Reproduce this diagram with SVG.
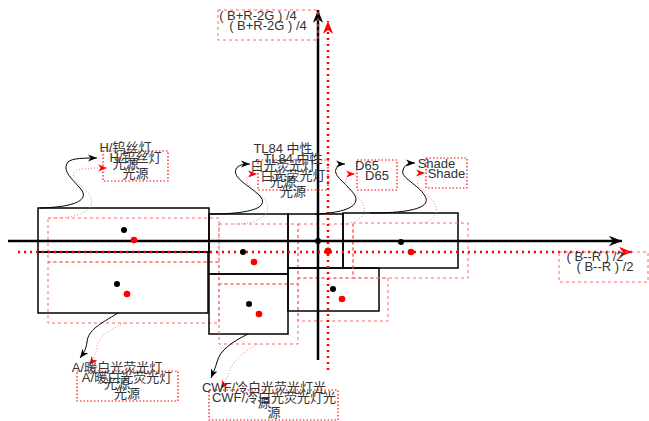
<svg xmlns="http://www.w3.org/2000/svg" width="649" height="421" viewBox="0 0 649 421">
<style>
.rk{fill:none;stroke:#000;stroke-width:1.5}
.rr{fill:none;stroke:#FF6666;stroke-width:1;stroke-dasharray:3 3}
.lb{fill:none;stroke:#FF0000;stroke-width:1.2;stroke-dasharray:1.5 2}
.db{fill:#000}
.dr{fill:#FF0000}
.t{font-family:"Liberation Sans","Noto Sans CJK SC",sans-serif;font-size:13px;fill:#333;text-anchor:middle}
.ck{fill:none;stroke:#000;stroke-width:1;marker-end:url(#ab)}
.cr{fill:none;stroke:#FF8080;stroke-width:1;stroke-dasharray:1 2;marker-end:url(#ar)}
.ak{fill:none;stroke:#000;stroke-width:2.5;marker-end:url(#aab)}
.ar{fill:none;stroke:#FF0000;stroke-width:2.5;stroke-dasharray:2 4;marker-end:url(#aar)}
</style>
<defs>
<marker id="ab" viewBox="0 0 10 8" refX="10" refY="4" markerWidth="9" markerHeight="7.2" markerUnits="userSpaceOnUse" orient="auto"><path d="M0,0 L10,4 L0,8 L3,4 Z" fill="#000"/></marker>
<marker id="ar" viewBox="0 0 10 8" refX="10" refY="4" markerWidth="9" markerHeight="7.2" markerUnits="userSpaceOnUse" orient="auto"><path d="M0,0 L10,4 L0,8 L3,4 Z" fill="#FF0000"/></marker>
<marker id="aab" viewBox="0 0 10 8" refX="10" refY="4" markerWidth="13" markerHeight="10.4" markerUnits="userSpaceOnUse" orient="auto"><path d="M0,0 L10,4 L0,8 L3,4 Z" fill="#000"/></marker>
<marker id="aar" viewBox="0 0 10 8" refX="10" refY="4" markerWidth="13" markerHeight="10.4" markerUnits="userSpaceOnUse" orient="auto"><path d="M0,0 L10,4 L0,8 L3,4 Z" fill="#FF0000"/></marker>
</defs>

<g id="node-H">
<rect class="rk" x="38" y="208" width="171" height="44"/>
<rect class="rr" x="48" y="218" width="171" height="44"/>
</g>
<g id="node-A">
<rect class="rk" x="38" y="252" width="170" height="61"/>
<rect class="rr" x="48" y="262" width="171" height="61"/>
</g>
<g id="node-TL84">
<rect class="rk" x="209" y="214" width="79" height="60"/>
<rect class="rr" x="219" y="224" width="79" height="60"/>
</g>
<g id="node-CWF">
<rect class="rk" x="209" y="274" width="79" height="60"/>
<rect class="rr" x="219" y="284" width="79" height="60"/>
</g>
<g id="node-D65">
<rect class="rk" x="288" y="214" width="55" height="54"/>
<rect class="rr" x="298" y="224" width="55" height="54"/>
</g>
<g id="node-U">
<rect class="rk" x="288" y="268" width="91" height="43"/>
<rect class="rr" x="298" y="278" width="90" height="43"/>
</g>
<g id="node-Shade">
<rect class="rk" x="343" y="213" width="115" height="55"/>
<rect class="rr" x="353" y="223" width="115" height="55"/>
</g>

<g id="connectors">
<path class="ak" d="M8,241 L622,241"/>
<path class="ak" d="M318,360 L318,10"/>
<path class="ar" d="M18,252 L632,252"/>
<path class="ar" d="M328,370 L328,21"/>
<path class="ck" d="M40,208 C78,207 90,199 80,188 C70,177 62,170 68,162 C72,158 85,158 97,158"/>
<path class="cr" d="M50,218 C85,218 96,208 90,196 C84,186 70,180 74,173 C77,168 92,168 107,168"/>
<path class="ck" d="M209,214 C250,214 270,208 260,196 C250,186 232,178 236,169 C238,165 243,164 250,164"/>
<path class="cr" d="M235,224 C262,224 272,212 266,202 C258,190 244,186 247,178 C249,174 252,174 257,174"/>
<path class="ck" d="M315,214 C345,213 362,206 354,194 C346,183 333,176 336,169 C338,165 341,164 345,164"/>
<path class="cr" d="M345,224 C362,222 368,212 362,202 C355,192 343,188 346,180 C348,175 351,174 355,174"/>
<path class="ck" d="M370,213 C410,213 432,208 425,196 C418,184 400,178 403,170 C405,164 409,163 415,163"/>
<path class="cr" d="M422,223 C437,220 440,210 432,200 C424,190 415,186 418,180 C420,175 421,173 425,173"/>
<path class="ck" d="M118,313 C100,324 88,330 87,342 C86,350 83,354 80,358"/>
<path class="cr" d="M124,323 C110,330 99,336 97,346 C96,354 93,360 89,365"/>
<path class="ck" d="M248,334 C232,342 220,350 217,362 C215,369 213,373 211,378"/>
<path class="cr" d="M258,344 C243,352 234,360 230,370 C227,378 224,384 221,389"/>
</g>

<g id="dots">
<circle class="db" cx="124" cy="230" r="3"/><circle class="dr" cx="134" cy="240" r="3.3"/>
<circle class="db" cx="117" cy="284" r="3"/><circle class="dr" cx="127" cy="294" r="3.3"/>
<circle class="db" cx="243" cy="252" r="3"/><circle class="dr" cx="254" cy="262" r="3.3"/>
<circle class="db" cx="249" cy="304" r="3"/><circle class="dr" cx="259" cy="314" r="3.3"/>
<circle class="db" cx="318" cy="241" r="3"/><circle class="dr" cx="328" cy="251" r="3.5"/>
<circle class="db" cx="333" cy="289" r="3"/><circle class="dr" cx="342" cy="299" r="3.3"/>
<circle class="db" cx="401" cy="242" r="3"/><circle class="dr" cx="411" cy="252" r="3.3"/>
</g>

<g id="label-y">
<rect class="rr" x="218" y="10" width="100" height="30"/>
<text class="t" x="258" y="20">( B+R-2G ) /4</text>
<text class="t" x="268" y="30">( B+R-2G ) /4</text>
</g>
<g id="label-x">
<rect class="rr" x="559" y="252" width="89" height="30"/>
<text class="t" x="595" y="261">( B--R ) /2</text>
<text class="t" x="605" y="271">( B--R ) /2</text>
</g>
<g id="label-H">
<rect class="lb" x="103" y="151" width="65" height="30"/>
<text class="t" x="125.5" y="151.5">H/钨丝灯</text>
<text class="t" x="125.5" y="167.5">光源</text>
<text class="t" x="135.5" y="161.5">H/钨丝灯</text>
<text class="t" x="135.5" y="177.5">光源</text>
</g>
<g id="label-TL84">
<rect class="lb" x="258" y="160" width="70" height="30"/>
<text class="t" x="283" y="153">TL84 中性</text>
<text class="t" x="283" y="169.5">白光荧光灯</text>
<text class="t" x="283" y="186">光源</text>
<text class="t" x="293" y="163">TL84 中性</text>
<text class="t" x="293" y="179.5">白光荧光灯</text>
<text class="t" x="293" y="196">光源</text>
</g>
<g id="label-D65">
<rect class="lb" x="357" y="160" width="40" height="30"/>
<text class="t" x="367" y="169.5">D65</text>
<text class="t" x="377" y="179.5">D65</text>
</g>
<g id="label-Shade">
<rect class="lb" x="426" y="158" width="41" height="30"/>
<text class="t" x="436.5" y="167.5">Shade</text>
<text class="t" x="446.5" y="177.5">Shade</text>
</g>
<g id="label-A">
<rect class="lb" x="77" y="371" width="101" height="30"/>
<text class="t" x="117" y="372">A/暖白光荧光灯</text>
<text class="t" x="117" y="387.5">光源</text>
<text class="t" x="127" y="382">A/暖白光荧光灯</text>
<text class="t" x="127" y="397.5">光源</text>
</g>
<g id="label-CWF">
<rect class="lb" x="209" y="390" width="129" height="30"/>
<text class="t" x="264" y="392">CWF/冷白光荧光灯光</text>
<text class="t" x="264" y="406.5">源</text>
<text class="t" x="274" y="402">CWF/冷白光荧光灯光</text>
<text class="t" x="274" y="416.5">源</text>
</g>
</svg>
